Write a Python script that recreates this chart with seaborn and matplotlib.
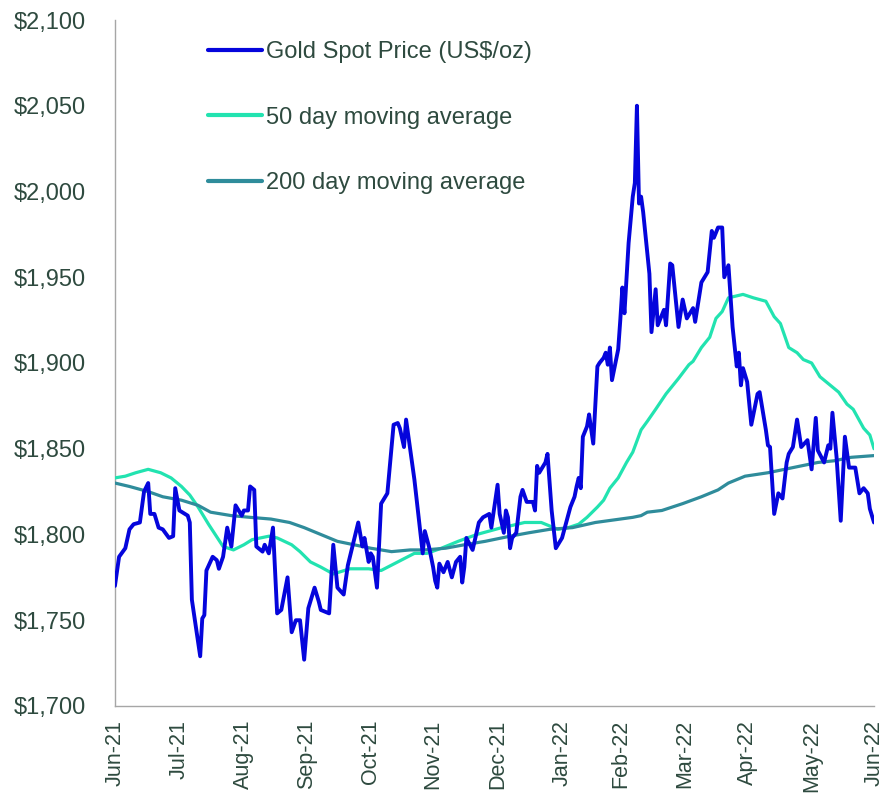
import pandas as pd
import numpy as np
import matplotlib
matplotlib.use("Agg")
import matplotlib.pyplot as plt
from matplotlib.ticker import FuncFormatter
import seaborn as sns

# ---------------- data ----------------
spot_dates = [
    "2021-06-30", "2021-07-02", "2021-07-05", "2021-07-07", "2021-07-09", "2021-07-12",
    "2021-07-14", "2021-07-16", "2021-07-17", "2021-07-19", "2021-07-21", "2021-07-23",
    "2021-07-26", "2021-07-28", "2021-07-29", "2021-07-31", "2021-08-04", "2021-08-05",
    "2021-08-06", "2021-08-09", "2021-08-10", "2021-08-11", "2021-08-12", "2021-08-13",
    "2021-08-16", "2021-08-18", "2021-08-19", "2021-08-21", "2021-08-23", "2021-08-25",
    "2021-08-27", "2021-08-30", "2021-08-31", "2021-09-02", "2021-09-03", "2021-09-05",
    "2021-09-06", "2021-09-09", "2021-09-10", "2021-09-12", "2021-09-14", "2021-09-16",
    "2021-09-18", "2021-09-21", "2021-09-23", "2021-09-25", "2021-09-27", "2021-09-29",
    "2021-10-01", "2021-10-04", "2021-10-06", "2021-10-07", "2021-10-11", "2021-10-13",
    "2021-10-15", "2021-10-18", "2021-10-20", "2021-10-25", "2021-10-27", "2021-10-28",
    "2021-10-30", "2021-10-31", "2021-11-01", "2021-11-03", "2021-11-05", "2021-11-08",
    "2021-11-11", "2021-11-13", "2021-11-14", "2021-11-16", "2021-11-17", "2021-11-21",
    "2021-11-25", "2021-11-26", "2021-11-28", "2021-11-30", "2021-12-01", "2021-12-02",
    "2021-12-03", "2021-12-05", "2021-12-07", "2021-12-09", "2021-12-11", "2021-12-13",
    "2021-12-14", "2021-12-15", "2021-12-16", "2021-12-19", "2021-12-22", "2021-12-24",
    "2021-12-27", "2021-12-28", "2021-12-31", "2022-01-01", "2022-01-03", "2022-01-04",
    "2022-01-05", "2022-01-06", "2022-01-07", "2022-01-09", "2022-01-11", "2022-01-12",
    "2022-01-14", "2022-01-17", "2022-01-18", "2022-01-19", "2022-01-20", "2022-01-23",
    "2022-01-24", "2022-01-26", "2022-01-28", "2022-01-29", "2022-01-31", "2022-02-02",
    "2022-02-04", "2022-02-06", "2022-02-07", "2022-02-08", "2022-02-09", "2022-02-10",
    "2022-02-12", "2022-02-13", "2022-02-15", "2022-02-17", "2022-02-18", "2022-02-20",
    "2022-02-21", "2022-02-22", "2022-02-23", "2022-02-24", "2022-02-27", "2022-02-28",
    "2022-03-01", "2022-03-02", "2022-03-04", "2022-03-06", "2022-03-07", "2022-03-08",
    "2022-03-09", "2022-03-10", "2022-03-11", "2022-03-14", "2022-03-15", "2022-03-17",
    "2022-03-18", "2022-03-21", "2022-03-22", "2022-03-24", "2022-03-25", "2022-03-28",
    "2022-03-30", "2022-04-01", "2022-04-04", "2022-04-05", "2022-04-08", "2022-04-11",
    "2022-04-13", "2022-04-14", "2022-04-16", "2022-04-18", "2022-04-19", "2022-04-21",
    "2022-04-23", "2022-04-25", "2022-04-26", "2022-04-27", "2022-04-28", "2022-04-30",
    "2022-05-02", "2022-05-05", "2022-05-06", "2022-05-09", "2022-05-10", "2022-05-11",
    "2022-05-13", "2022-05-15", "2022-05-17", "2022-05-19", "2022-05-20", "2022-05-22",
    "2022-05-24", "2022-05-26", "2022-05-29", "2022-05-31", "2022-06-02", "2022-06-03",
    "2022-06-06", "2022-06-08", "2022-06-09", "2022-06-10", "2022-06-12", "2022-06-14",
    "2022-06-16", "2022-06-18", "2022-06-21", "2022-06-23", "2022-06-25", "2022-06-27",
    "2022-06-28", "2022-06-30",
]
spot_price = [
    1770, 1787, 1792, 1803, 1806, 1807,
    1825, 1830, 1812, 1812, 1804, 1803,
    1798, 1799, 1827, 1814, 1811, 1807,
    1762, 1737, 1729, 1751, 1753, 1779,
    1787, 1785, 1780, 1787, 1804, 1793,
    1817, 1811, 1814, 1814, 1828, 1826,
    1793, 1790, 1794, 1789, 1804, 1754,
    1756, 1775, 1743, 1750, 1750, 1727,
    1757, 1769, 1761, 1756, 1754, 1794,
    1769, 1765, 1782, 1807, 1793, 1798,
    1784, 1789, 1787, 1769, 1818, 1824,
    1864, 1865, 1862, 1851, 1867, 1832,
    1789, 1802, 1793, 1781, 1773, 1769,
    1783, 1778, 1784, 1775, 1784, 1787,
    1772, 1781, 1798, 1791, 1807, 1810,
    1812, 1804, 1829, 1812, 1801, 1814,
    1810, 1792, 1798, 1801, 1822, 1826,
    1819, 1819, 1814, 1840, 1836, 1842,
    1847, 1814, 1792, 1794, 1798, 1807,
    1816, 1822, 1828, 1833, 1827, 1857,
    1863, 1870, 1853, 1898, 1900, 1903,
    1906, 1899, 1909, 1890, 1908, 1925,
    1944, 1929, 1970, 1997, 2005, 2050,
    1993, 1997, 1988, 1952, 1918, 1943,
    1922, 1931, 1922, 1958, 1957, 1921,
    1937, 1926, 1932, 1924, 1947, 1953,
    1977, 1973, 1979, 1979, 1950, 1957,
    1921, 1898, 1906, 1887, 1897, 1889,
    1864, 1882, 1883, 1861, 1852, 1851,
    1812, 1824, 1821, 1842, 1847, 1851,
    1867, 1851, 1855, 1838, 1868, 1849,
    1842, 1852, 1850, 1871, 1845, 1808,
    1857, 1839, 1839, 1824, 1827, 1824,
    1815, 1807,
]

ma50_dates = [
    "2021-06-30", "2021-07-05", "2021-07-10", "2021-07-16", "2021-07-22", "2021-07-27",
    "2021-08-01", "2021-08-05", "2021-08-09", "2021-08-14", "2021-08-21", "2021-08-26",
    "2021-08-31", "2021-09-04", "2021-09-12", "2021-09-16", "2021-09-23", "2021-09-27",
    "2021-10-02", "2021-10-07", "2021-10-13", "2021-10-21", "2021-10-30", "2021-11-05",
    "2021-11-13", "2021-11-21", "2021-11-27", "2021-12-04", "2021-12-12", "2021-12-21",
    "2022-01-02", "2022-01-06", "2022-01-13", "2022-01-21", "2022-01-27", "2022-01-29",
    "2022-02-03", "2022-02-08", "2022-02-12", "2022-02-17", "2022-02-20", "2022-02-23",
    "2022-02-27", "2022-03-03", "2022-03-06", "2022-03-10", "2022-03-13", "2022-03-17",
    "2022-03-22", "2022-03-28", "2022-04-02", "2022-04-04", "2022-04-08", "2022-04-12",
    "2022-04-15", "2022-04-18", "2022-04-21", "2022-04-28", "2022-05-03", "2022-05-09",
    "2022-05-13", "2022-05-16", "2022-05-20", "2022-05-24", "2022-05-27", "2022-05-31",
    "2022-06-04", "2022-06-09", "2022-06-13", "2022-06-17", "2022-06-20", "2022-06-25",
    "2022-06-28", "2022-06-30",
]
ma50_value = [
    1833, 1834, 1836, 1838, 1836, 1833,
    1828, 1823, 1816, 1806, 1793, 1791,
    1794, 1797, 1799, 1798, 1794, 1790,
    1784, 1781, 1777, 1780, 1780, 1779,
    1784, 1789, 1789, 1792, 1796, 1800,
    1804, 1805, 1807, 1807, 1804, 1803,
    1804, 1806, 1810, 1816, 1820, 1827,
    1833, 1842, 1848, 1861, 1866, 1873,
    1882, 1891, 1899, 1901, 1909, 1915,
    1926, 1930, 1938, 1940, 1938, 1936,
    1927, 1923, 1909, 1906, 1902, 1900,
    1892, 1887, 1883, 1876, 1873, 1862,
    1858, 1850,
]

ma200_dates = [
    "2021-06-30", "2021-07-07", "2021-07-16", "2021-07-23", "2021-08-01", "2021-08-09",
    "2021-08-15", "2021-08-25", "2021-09-03", "2021-09-13", "2021-09-22", "2021-09-29",
    "2021-10-05", "2021-10-15", "2021-10-23", "2021-10-31", "2021-11-10", "2021-11-19",
    "2021-11-26", "2021-12-06", "2021-12-15", "2021-12-25", "2022-01-06", "2022-01-15",
    "2022-01-25", "2022-02-05", "2022-02-16", "2022-02-28", "2022-03-06", "2022-03-10",
    "2022-03-13", "2022-03-20", "2022-03-30", "2022-04-08", "2022-04-16", "2022-04-21",
    "2022-04-29", "2022-05-10", "2022-05-18", "2022-05-26", "2022-06-03", "2022-06-11",
    "2022-06-19", "2022-06-30",
]
ma200_value = [
    1830, 1828, 1825, 1822, 1820, 1817,
    1813, 1811, 1810, 1809, 1807, 1804,
    1801, 1796, 1794, 1792, 1790, 1791,
    1791, 1792, 1794, 1796, 1799, 1801,
    1803, 1804, 1807, 1809, 1810, 1811,
    1813, 1814, 1818, 1822, 1826, 1830,
    1834, 1836, 1838, 1840, 1842, 1843,
    1845, 1846,
]

ytick_values = [1700, 1750, 1800, 1850, 1900, 1950, 2000, 2050, 2100]
xtick_dates = [
    "2021-06-30", "2021-07-31", "2021-08-31", "2021-09-30", "2021-10-31", "2021-11-30",
    "2021-12-31", "2022-01-31", "2022-02-28", "2022-03-31", "2022-04-30", "2022-05-31",
    "2022-06-30",
]
series_names = ["Gold Spot Price (US$/oz)", "50 day moving average", "200 day moving average"]
series_colors = ["#0505DC", "#22E3B0", "#2F8C9B"]

# ---------------- figure ----------------
sns.set_theme(style="white")
plt.rcParams["font.family"] = ["Liberation Sans", "DejaVu Sans"]
text_color = "#2E4A3F"

fig = plt.figure(figsize=(8.84, 7.97), dpi=100)
ax = fig.add_axes([0.130, 0.1142, 0.8587, 0.8607])

df_spot = pd.DataFrame({"date": pd.to_datetime(spot_dates), "value": spot_price})
df_50 = pd.DataFrame({"date": pd.to_datetime(ma50_dates), "value": ma50_value})
df_200 = pd.DataFrame({"date": pd.to_datetime(ma200_dates), "value": ma200_value})

sns.lineplot(data=df_spot, x="date", y="value", ax=ax, color=series_colors[0],
             linewidth=2.8, label=series_names[0], zorder=4)
sns.lineplot(data=df_50, x="date", y="value", ax=ax, color=series_colors[1],
             linewidth=2.3, label=series_names[1], zorder=3)
sns.lineplot(data=df_200, x="date", y="value", ax=ax, color=series_colors[2],
             linewidth=2.3, label=series_names[2], zorder=3)

ax.set_xlim(pd.Timestamp(xtick_dates[0]), pd.Timestamp(xtick_dates[-1]))
ax.set_ylim(ytick_values[0], ytick_values[-1])
ax.set_yticks(ytick_values)
ax.yaxis.set_major_formatter(FuncFormatter(lambda v, p: f"${v:,.0f}"))
ax.set_xticks(pd.to_datetime(xtick_dates))
ax.set_xticklabels([pd.Timestamp(d).strftime("%b-%y") for d in xtick_dates], rotation=90)
ax.set_xlabel("")
ax.set_ylabel("")

for s in ["top", "right"]:
    ax.spines[s].set_visible(False)
for s in ["left", "bottom"]:
    ax.spines[s].set_color("#A6A6A6")
    ax.spines[s].set_linewidth(1.0)
ax.tick_params(axis="both", which="major", direction="out", length=5, width=1,
               color="#A6A6A6", labelcolor=text_color)
ax.tick_params(axis="x", pad=5, labelsize=15.5)
ax.tick_params(axis="y", pad=16, labelsize=17)
ax.grid(False)

leg = ax.legend(loc="upper left", bbox_to_anchor=(0.110, 0.983), frameon=False,
                fontsize=17, handlelength=2.29, handletextpad=0.17, labelspacing=1.84,
                borderaxespad=0)
for t in leg.get_texts():
    t.set_color(text_color)
for h in leg.get_lines():
    h.set_linewidth(3.0)

fig.savefig("out.png", dpi=100, facecolor="white")
